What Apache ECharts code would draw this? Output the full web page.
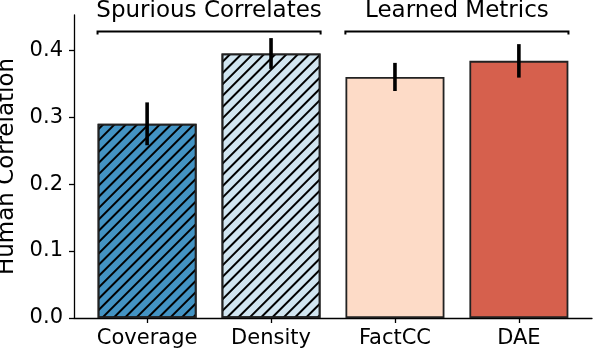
<!DOCTYPE html>
<html>
<head>
<meta charset="utf-8">
<script src="https://cdn.jsdelivr.net/npm/echarts@6/dist/echarts.min.js"></script>
<style>
  html, body { margin: 0; padding: 0; background: #fff; }
  #chart { width: 594px; height: 350px; }
</style>
</head>
<body>
<div id="chart"></div>
<script>
// data
const categories = ['Coverage', 'Density', 'FactCC', 'DAE']
const correlation = [0.290, 0.395, 0.360, 0.384]
const errors = [0.032, 0.023, 0.021, 0.025]
const barColors = ['#4393c3', '#d1e5f0', '#fddbc7', '#d6604d']
const hatched = [true, true, false, false]
// groups shown with brackets above the bars
const groupNames = ['Spurious Correlates', 'Learned Metrics']
const groupFrom = [0, 2]
const groupTo = [1, 3]
const yTicks = [0, 0.1, 0.2, 0.3, 0.4]

const FONT = 'DejaVu Sans'
const halfBar = 0.4
const bracketLevel = 0.428

const chart = echarts.init(document.getElementById('chart'))

// hatch "//" like matplotlib
const hatch = {
  symbol: 'rect',
  symbolSize: 1,
  color: '#000',
  dashArrayX: [[10, 0]],
  dashArrayY: [2, 6],
  rotation: -Math.PI / 4
}

const barData = categories.map(function (c, i) {
  return {
    value: [i, correlation[i]],
    itemStyle: {
      color: barColors[i],
      borderColor: '#222',
      borderWidth: 1.8,
      decal: hatched[i] ? hatch : null
    }
  }
})

const option = {
  animation: false,
  textStyle: { fontFamily: FONT },
  grid: { left: 74, right: 2, top: 15, bottom: 32, containLabel: false, outerBoundsMode: 'none' },
  xAxis: {
    type: 'value',
    min: -0.59,
    max: 3.59,
    splitLine: { show: false },
    axisLine: { show: true, onZero: false, lineStyle: { color: '#000', width: 1.3 } },
    axisTick: { show: true, length: 5, lineStyle: { color: '#000', width: 1.3 }, customValues: [0, 1, 2, 3] },
    axisLabel: {
      customValues: [0, 1, 2, 3],
      formatter: function (v) { return categories[Math.round(v)] },
      color: '#000',
      fontSize: 21,
      fontFamily: FONT,
      margin: 10
    }
  },
  yAxis: {
    type: 'value',
    min: 0,
    max: 0.4525,
    name: 'Human Correlation',
    nameLocation: 'middle',
    nameGap: 50,
    nameRotate: 90,
    nameTextStyle: { fontSize: 23, color: '#000', fontFamily: FONT },
    splitLine: { show: false },
    axisLine: { show: true, onZero: false, lineStyle: { color: '#000', width: 1.3 } },
    axisTick: { show: true, length: 5, lineStyle: { color: '#000', width: 1.3 }, customValues: yTicks },
    axisLabel: {
      customValues: yTicks,
      formatter: function (v) { return v.toFixed(1) },
      color: '#000',
      fontSize: 21,
      fontFamily: FONT,
      margin: 11
    }
  },
  series: [
    {
      type: 'bar',
      barWidth: 99,
      data: barData
    },
    {
      // error bars
      type: 'custom',
      z: 5,
      data: categories.map(function (c, i) { return [i, correlation[i] - errors[i], correlation[i] + errors[i]] }),
      renderItem: function (params, api) {
        const lo = api.coord([api.value(0), api.value(1)])
        const hi = api.coord([api.value(0), api.value(2)])
        return {
          type: 'line',
          shape: { x1: lo[0], y1: lo[1], x2: hi[0], y2: hi[1] },
          style: { stroke: '#000', lineWidth: 3.6 }
        }
      }
    },
    {
      // group brackets
      type: 'custom',
      clip: false,
      z: 5,
      data: groupNames.map(function (n, i) { return [groupFrom[i] - halfBar, groupTo[i] + halfBar, bracketLevel] }),
      renderItem: function (params, api) {
        const a = api.coord([api.value(0), api.value(2)])
        const b = api.coord([api.value(1), api.value(2)])
        return {
          type: 'group',
          children: [
            {
              type: 'polyline',
              shape: { points: [[a[0], a[1] + 3], [a[0], a[1]], [b[0], b[1]], [b[0], b[1] + 3]] },
              style: { stroke: '#000', lineWidth: 2, fill: null }
            },
            {
              type: 'text',
              style: {
                text: groupNames[params.dataIndex],
                x: (a[0] + b[0]) / 2,
                y: a[1] - 9,
                align: 'center',
                verticalAlign: 'bottom',
                fontSize: 23,
                fontFamily: FONT,
                fill: '#000'
              }
            }
          ]
        }
      }
    }
  ]
}

chart.setOption(option)
</script>
</body>
</html>
